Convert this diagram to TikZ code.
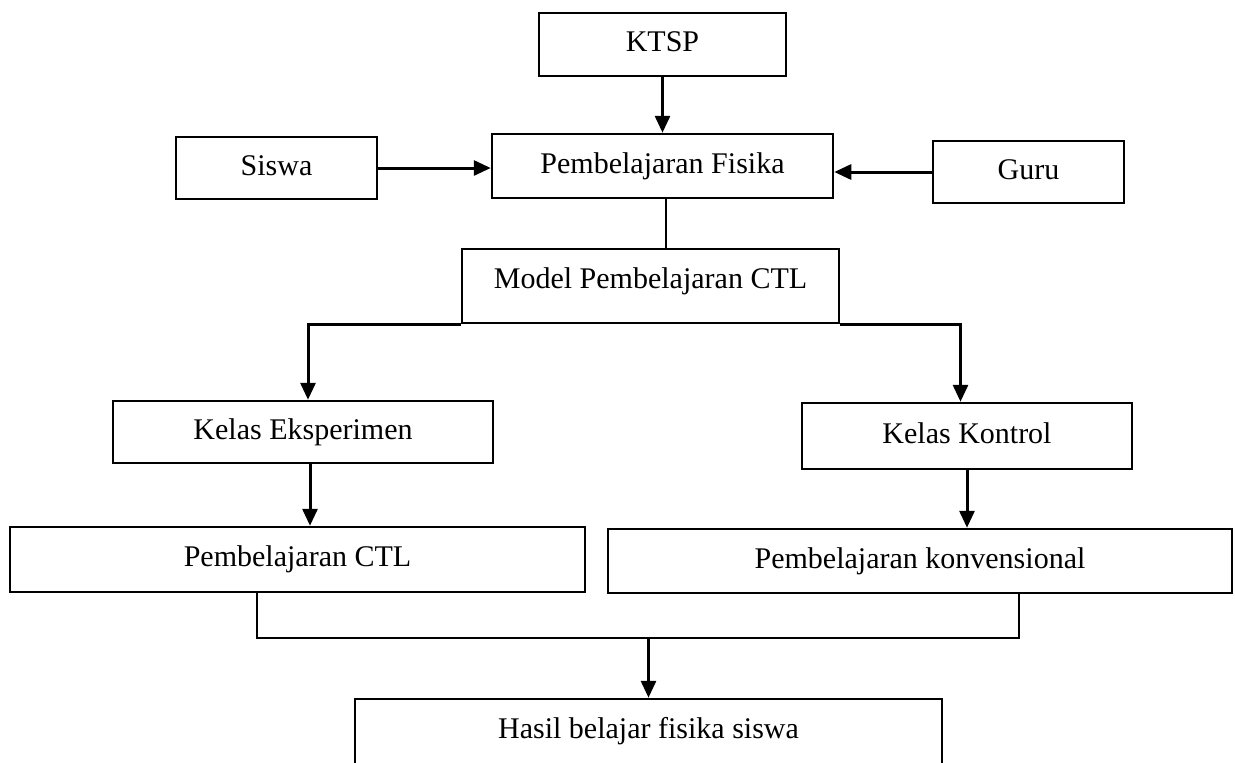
\documentclass[tikz,border=0pt]{standalone}
\usepackage{fontspec}
\setmainfont{Liberation Serif}
\usepackage{tikz}
\usetikzlibrary{arrows.meta, calc}

\begin{document}
\begin{tikzpicture}[x=0.4pt, y=-0.4pt,
  box/.style={draw, line width=1pt, rectangle, inner sep=0pt, text height=8.5pt, text depth=2.6pt, font=\fontsize{12pt}{14pt}\selectfont},
  topbox/.style={box, text depth=6.6pt},
  arr/.style={line width=1.2pt, -{Triangle[length=6.8pt, width=6pt]}},
  link/.style={line width=1pt}]
\useasboundingbox (0,0) rectangle (1235,762);
\node[box, minimum width=98.8pt, minimum height=25.2pt] (ktsp) at (662.5,44.5) {KTSP};
\node[box, minimum width=136.4pt, minimum height=25.6pt] (fisika) at (662.5,166) {Pembelajaran Fisika};
\node[box, minimum width=80.4pt, minimum height=24.8pt] (siswa) at (276.5,168) {Siswa};
\node[box, minimum width=76.4pt, minimum height=24.8pt] (guru) at (1028.5,172) {Guru};
\node[topbox, minimum width=150.8pt, minimum height=29.6pt] (model) at (650.5,286) {Model Pembelajaran CTL};
\node[box, minimum width=152pt, minimum height=24.8pt] (eksp) at (303,432) {Kelas Eksperimen};
\node[box, minimum width=132pt, minimum height=26.4pt] (kontrol) at (967,436) {Kelas Kontrol};
\node[box, minimum width=230pt, minimum height=26pt] (ctl) at (297.5,559.5) {Pembelajaran CTL};
\node[box, minimum width=249.6pt, minimum height=25.6pt] (konv) at (920,561) {Pembelajaran konvensional};
\node[topbox, minimum width=234.8pt, minimum height=29.6pt] (hasil) at (648.5,736) {Hasil belajar fisika siswa};

\draw[arr] (ktsp.south) -- (fisika.north);
\draw[arr] (siswa.east) -- (siswa.east -| fisika.west);
\draw[arr] (guru.west) -- (guru.west -| fisika.east);
\draw[link] ([xshift=1.4pt]fisika.south) -- ([xshift=1.4pt]fisika.south |- model.north);
\draw[arr] (model.south west) -| ([xshift=2pt]eksp.north);
\draw[arr] (model.south east) -| ([xshift=-2.6pt]kontrol.north);
\draw[arr] ([xshift=2.8pt]eksp.south) -- ([xshift=2.8pt]eksp.south |- ctl.north);
\draw[arr] (kontrol.south) -- (kontrol.south |- konv.north);

\coordinate (jl) at (257,638);
\coordinate (jr) at (1019,638);
\coordinate (jm) at (648.5,638);
\draw[link] (ctl.south -| jl) -- (jl) -- (jr) -- (konv.south -| jr);
\draw[arr] (jm) -- (hasil.north);
\end{tikzpicture}
\end{document}
